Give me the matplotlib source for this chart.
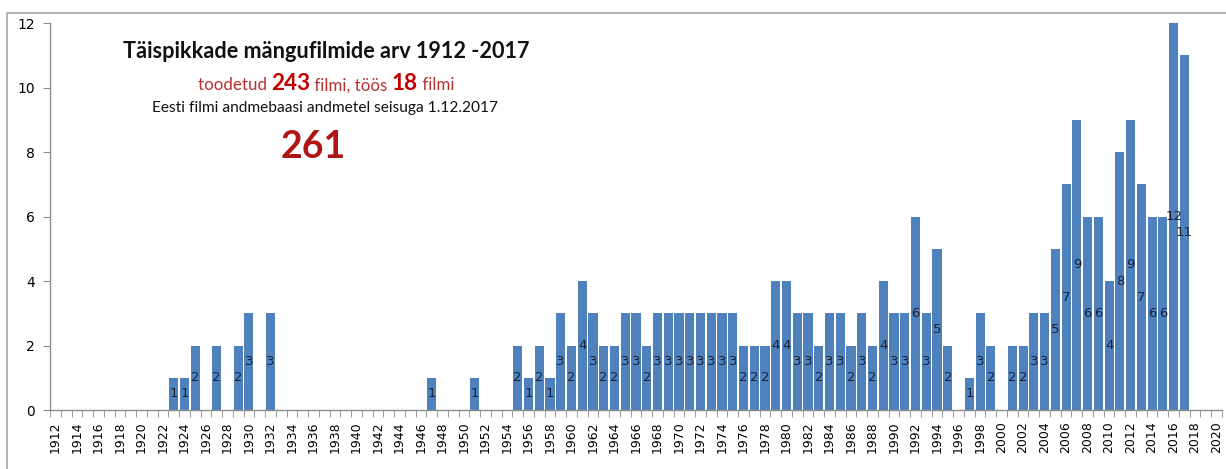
import matplotlib
matplotlib.use('Agg')
import matplotlib.pyplot as plt
from matplotlib.lines import Line2D
from matplotlib.offsetbox import TextArea, HPacker, AnnotationBbox
import numpy as np

# category range on the x axis
first_year = 1912
last_year = 2020

# years that have films and how many films
film_years = [1923, 1924, 1925, 1927, 1929, 1930, 1932,
              1947, 1951,
              1955, 1956, 1957, 1958, 1959, 1960, 1961, 1962, 1963, 1964, 1965, 1966, 1967,
              1968, 1969, 1970, 1971, 1972, 1973, 1974, 1975, 1976, 1977, 1978, 1979, 1980,
              1981, 1982, 1983, 1984, 1985, 1986, 1987, 1988, 1989, 1990, 1991, 1992, 1993,
              1994, 1995, 1997, 1998, 1999,
              2001, 2002, 2003, 2004, 2005, 2006, 2007, 2008, 2009, 2010, 2011, 2012, 2013,
              2014, 2015, 2016, 2017]
film_counts = [1, 1, 2, 2, 2, 3, 3,
               1, 1,
               2, 1, 2, 1, 3, 2, 4, 3, 2, 2, 3, 3, 2,
               3, 3, 3, 3, 3, 3, 3, 3, 2, 2, 2, 4, 4,
               3, 3, 2, 3, 3, 2, 3, 2, 4, 3, 3, 6, 3,
               5, 2, 1, 3, 2,
               2, 2, 3, 3, 5, 7, 9, 6, 6, 4, 8, 9, 7,
               6, 6, 12, 11]

bar_color = '#4f81bd'
label_color = '#1a2238'
red = '#c00000'
red_light = '#b8312f'
gray = '#8c8c8c'

fig = plt.figure(figsize=(12.26, 4.69), dpi=100)
ax = fig.add_axes([50 / 1226, 1 - 410 / 469, (1222 - 50) / 1226, (410 - 23) / 469])

ax.bar(film_years, film_counts, width=0.85, color=bar_color, edgecolor='none', zorder=2)

for yr, n in zip(film_years, film_counts):
    ax.text(yr, n / 2, str(n), ha='center', va='center', fontsize=9.5,
            color=label_color, zorder=3)

ax.set_xlim(first_year - 0.5, last_year + 0.5)
ax.set_ylim(0, 12)

label_years = np.arange(first_year, last_year + 1, 2)
ax.set_xticks(label_years)
ax.set_xticklabels([str(y) for y in label_years], rotation=90, fontsize=9)
ax.set_xticks(np.arange(first_year - 0.5, last_year + 1.0, 1), minor=True)
ax.tick_params(axis='x', which='major', length=0, pad=8)
ax.tick_params(axis='x', which='minor', length=5, color=gray, direction='out')
ax.set_yticks(range(0, 13, 2))
ax.tick_params(axis='y', length=5, color=gray, labelsize=10, pad=6)

for s in ['top', 'right']:
    ax.spines[s].set_visible(False)
for s in ['left', 'bottom']:
    ax.spines[s].set_color(gray)
    ax.spines[s].set_linewidth(1)

# chart area border (only top and left visible in the crop)
fig.add_artist(Line2D([7 / 1226, 7 / 1226, 1.0], [0.0, 1 - 13 / 469, 1 - 13 / 469],
                      transform=fig.transFigure, color='#a6a6a6', lw=1.2))

# annotations
cx = 326 / 1226
fig.text(cx, 1 - 52 / 469, 'Täispikkade mängufilmide arv 1912 -2017', ha='center', va='center',
         fontsize=15.6, fontweight='bold', family='Lato', color='#111111')

parts = [('toodetud ', red_light, 'normal', 12.2),
         ('243', red, 'bold', 16.2),
         (' filmi, töös ', red_light, 'normal', 12.2),
         ('18', red, 'bold', 16.2),
         (' filmi', red_light, 'normal', 12.2)]
boxes = [TextArea(t, textprops=dict(color=c, fontweight=w, fontsize=s, family='Lato'))
         for t, c, w, s in parts]
line2 = HPacker(children=boxes, align='baseline', pad=0, sep=0)
fig.add_artist(AnnotationBbox(line2, (cx, 1 - 84 / 469), xycoords='figure fraction',
                              frameon=False, box_alignment=(0.5, 0.5)))

fig.text(325 / 1226, 1 - 108 / 469, 'Eesti filmi andmebaasi andmetel seisuga 1.12.2017',
         ha='center', va='center', fontsize=11.2, family='Lato', color='#111111')
fig.text(313 / 1226, 1 - 147 / 469, '261', ha='center', va='center', fontsize=27,
         fontweight='bold', family='Lato', color='#b01515')

fig.savefig('out.png', dpi=100)
